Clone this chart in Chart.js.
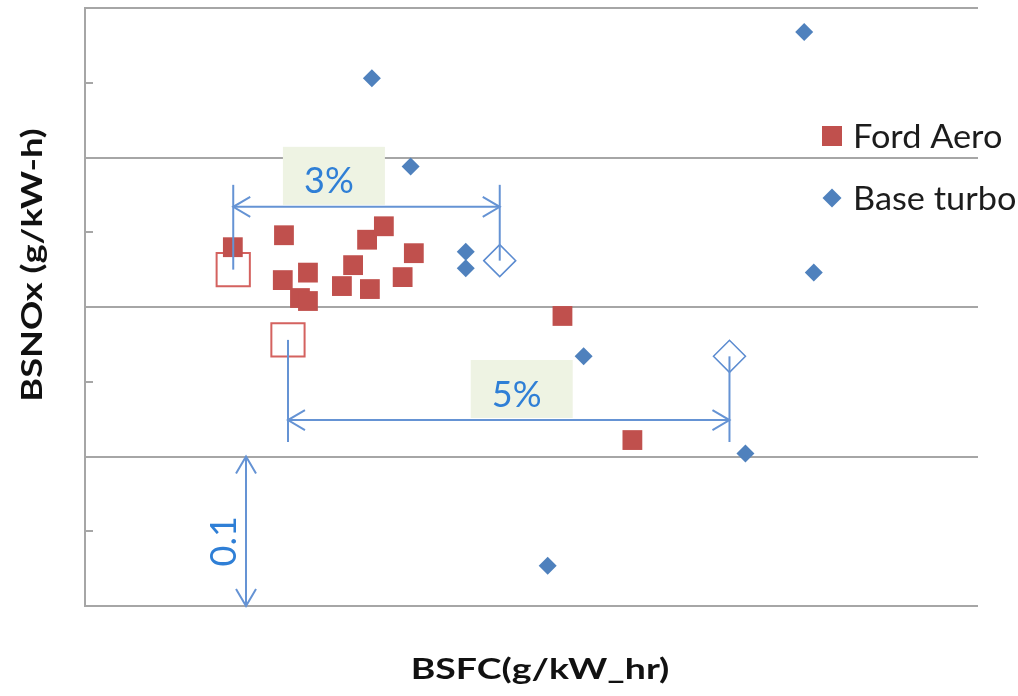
<!DOCTYPE html>
<html>
<head>
<meta charset="utf-8">
<title>BSNOx vs BSFC</title>
<script src="https://cdn.jsdelivr.net/npm/chart.js@4.4.1/dist/chart.umd.min.js"></script>
<style>
  body { margin: 0; background: #fff; }
  #wrap { width: 1018px; height: 696px; }
</style>
</head>
<body>
<div id="wrap"><canvas id="bsnoxChart" width="1018" height="696"></canvas></div>
<script>
// Axis ranges (g/kW_hr on x, g/kW-h on y) - no tick labels shown in the original
const xRange = [216.3, 238.65];
const yRange = [0.3, 0.7];
const yStep = 0.1;

// Ford Aero test points
const fordBsfc  = [220.0, 221.28, 221.25, 221.88, 221.68, 221.88, 222.73, 223.01, 223.36, 223.78, 223.43, 224.25, 224.53, 228.25, 230.0];
const fordBsnox = [0.540, 0.548, 0.518, 0.523, 0.506, 0.504, 0.514, 0.528, 0.545, 0.554, 0.512, 0.520, 0.536, 0.494, 0.411];

// Base turbo test points
const baseBsfc  = [223.48, 224.45, 225.83, 225.83, 228.78, 232.83, 227.88, 234.3, 234.54];
const baseBsnox = [0.653, 0.594, 0.537, 0.526, 0.467, 0.402, 0.327, 0.684, 0.523];

// Highlighted comparison points (hollow markers)
const fordRefBsfc  = [220.01, 221.38];
const fordRefBsnox = [0.525, 0.478];
const baseRefBsfc  = [226.68, 232.43];
const baseRefBsnox = [0.531, 0.467];

// Dimension labels
const gapLabels = ['3%', '5%'];
const gapArrowY = [0.567, 0.4244];
const gapLabelX = [222.53, 227.23];
const stepLabel = '0.1';
const stepArrowX = 220.33;

const red = '#c0504d';
const blue = '#4f81bd';
const annoLine = '#6593d4';
const annoText = '#2f7fd6';
const gridGrey = '#a6a6a6';

function toPoints(xs, ys) {
    return xs.map(function (x, i) { return { x: x, y: ys[i] }; });
}

// Draws the arrows, label boxes, legend, minor ticks and axis titles
const annotationPlugin = {
    id: 'annotationPlugin',
    afterDatasetsDraw(chart) {
        const ctx = chart.ctx;
        const xs = chart.scales.x;
        const ys = chart.scales.y;
        const area = chart.chartArea;

        ctx.save();

        // minor ticks on the left axis, pointing inward
        ctx.strokeStyle = gridGrey;
        ctx.lineWidth = 2;
        for (let v = yRange[0] + yStep / 2; v < yRange[1]; v += yStep) {
            const py = Math.round(ys.getPixelForValue(v));
            ctx.beginPath();
            ctx.moveTo(area.left, py);
            ctx.lineTo(area.left + 8, py);
            ctx.stroke();
        }

        const L = 17, H = 10;
        function chevronLeft(x, y) {
            ctx.beginPath();
            ctx.moveTo(x + L, y - H);
            ctx.lineTo(x, y);
            ctx.lineTo(x + L, y + H);
            ctx.stroke();
        }
        function chevronRight(x, y) {
            ctx.beginPath();
            ctx.moveTo(x - L, y - H);
            ctx.lineTo(x, y);
            ctx.lineTo(x - L, y + H);
            ctx.stroke();
        }
        function line(x1, y1, x2, y2) {
            ctx.beginPath();
            ctx.moveTo(x1, y1);
            ctx.lineTo(x2, y2);
            ctx.stroke();
        }

        // horizontal dimension arrows between hollow markers
        for (let i = 0; i < gapLabels.length; i++) {
            const ay = ys.getPixelForValue(gapArrowY[i]);
            const x1 = xs.getPixelForValue(fordRefBsfc[i]);
            const y1 = ys.getPixelForValue(fordRefBsnox[i]);
            const x2 = xs.getPixelForValue(baseRefBsfc[i]);
            const y2 = ys.getPixelForValue(baseRefBsnox[i]);
            const ext = (ay < y1) ? -22 : 22;

            // label box
            const cx = xs.getPixelForValue(gapLabelX[i]);
            const bw = 102, bh = 58;
            ctx.fillStyle = '#eef3e3';
            ctx.fillRect(cx - bw / 2, ay - bh - 2, bw, bh);
            ctx.fillStyle = annoText;
            ctx.font = '36px Lato';
            ctx.textAlign = 'center';
            ctx.textBaseline = 'middle';
            ctx.fillText(gapLabels[i], cx - 5, ay - bh / 2 + 4);

            ctx.strokeStyle = annoLine;
            ctx.lineWidth = 2;
            line(x1, y1, x1, ay + ext);
            line(x2, y2, x2, ay + ext);
            line(x1, ay, x2, ay);
            chevronLeft(x1, ay);
            chevronRight(x2, ay);
        }

        // vertical 0.1 arrow
        const sx = xs.getPixelForValue(stepArrowX);
        const top = ys.getPixelForValue(yRange[0] + yStep);
        const bottom = ys.getPixelForValue(yRange[0]);
        line(sx, top, sx, bottom);
        ctx.beginPath();
        ctx.moveTo(sx - H, top + L);
        ctx.lineTo(sx, top);
        ctx.lineTo(sx + H, top + L);
        ctx.stroke();
        ctx.beginPath();
        ctx.moveTo(sx - H, bottom - L);
        ctx.lineTo(sx, bottom);
        ctx.lineTo(sx + H, bottom - L);
        ctx.stroke();
        ctx.save();
        ctx.translate(sx - 22, (top + bottom) / 2 + 10);
        ctx.rotate(-Math.PI / 2);
        ctx.fillStyle = annoText;
        ctx.font = '36px Lato';
        ctx.textAlign = 'center';
        ctx.textBaseline = 'middle';
        ctx.fillText(stepLabel, 0, 0);
        ctx.restore();

        // legend
        ctx.fillStyle = red;
        ctx.fillRect(822, 126, 20, 20);
        ctx.fillStyle = blue;
        ctx.beginPath();
        ctx.moveTo(832, 188.5);
        ctx.lineTo(841.5, 198);
        ctx.lineTo(832, 207.5);
        ctx.lineTo(822.5, 198);
        ctx.closePath();
        ctx.fill();
        ctx.fillStyle = '#1c1c1c';
        ctx.font = '33px Lato';
        ctx.textAlign = 'left';
        ctx.textBaseline = 'middle';
        ctx.save();
        ctx.translate(853, 137);
        ctx.scale(1.04, 1);
        ctx.fillText(chart.data.datasets[0].label, 0, 0);
        ctx.fillText(chart.data.datasets[1].label, 0, 62);
        ctx.restore();

        // axis titles (wide bold face)
        ctx.fillStyle = '#111';
        ctx.font = 'bold 29px Lato';
        ctx.textAlign = 'center';
        ctx.textBaseline = 'alphabetic';
        ctx.save();
        ctx.translate(540, 679);
        ctx.scale(1.29, 1);
        ctx.fillText('BSFC(g/kW_hr)', 0, 0);
        ctx.restore();
        ctx.save();
        ctx.translate(42, 265);
        ctx.rotate(-Math.PI / 2);
        ctx.scale(1.25, 1);
        ctx.fillText('BSNOx (g/kW-h)', 0, 0);
        ctx.restore();

        ctx.restore();
    }
};

const ctx = document.getElementById('bsnoxChart').getContext('2d');

const bsnoxChart = new Chart(ctx, {
    type: 'scatter',
    data: {
        datasets: [
            {
                label: 'Ford Aero',
                data: toPoints(fordBsfc, fordBsnox),
                pointStyle: 'rect',
                pointRadius: 14,
                backgroundColor: red,
                borderWidth: 0
            },
            {
                label: 'Base turbo',
                data: toPoints(baseBsfc, baseBsnox),
                pointStyle: 'rectRot',
                pointRadius: 9,
                backgroundColor: blue,
                borderWidth: 0
            },
            {
                label: 'Ford Aero ref',
                data: toPoints(fordRefBsfc, fordRefBsnox),
                pointStyle: 'rect',
                pointRadius: 23.5,
                backgroundColor: 'rgba(255,255,255,0)',
                borderColor: '#d4625f',
                borderWidth: 2
            },
            {
                label: 'Base turbo ref',
                data: toPoints(baseRefBsfc, baseRefBsnox),
                pointStyle: 'rectRot',
                pointRadius: 16,
                backgroundColor: 'rgba(255,255,255,0)',
                borderColor: '#5b8bd0',
                borderWidth: 1.5
            }
        ]
    },
    plugins: [annotationPlugin],
    options: {
        responsive: false,
        animation: false,
        layout: {
            autoPadding: false,
            padding: { left: 85, right: 40, top: 8, bottom: 90 }
        },
        plugins: {
            legend: { display: false },
            tooltip: { enabled: false }
        },
        scales: {
            x: {
                type: 'linear',
                min: xRange[0],
                max: xRange[1],
                display: false
            },
            y: {
                min: yRange[0],
                max: yRange[1],
                ticks: { display: false, stepSize: yStep },
                grid: { color: gridGrey, lineWidth: 2, drawTicks: false },
                border: { display: true, color: gridGrey, width: 2 }
            }
        }
    }
});
</script>
</body>
</html>
